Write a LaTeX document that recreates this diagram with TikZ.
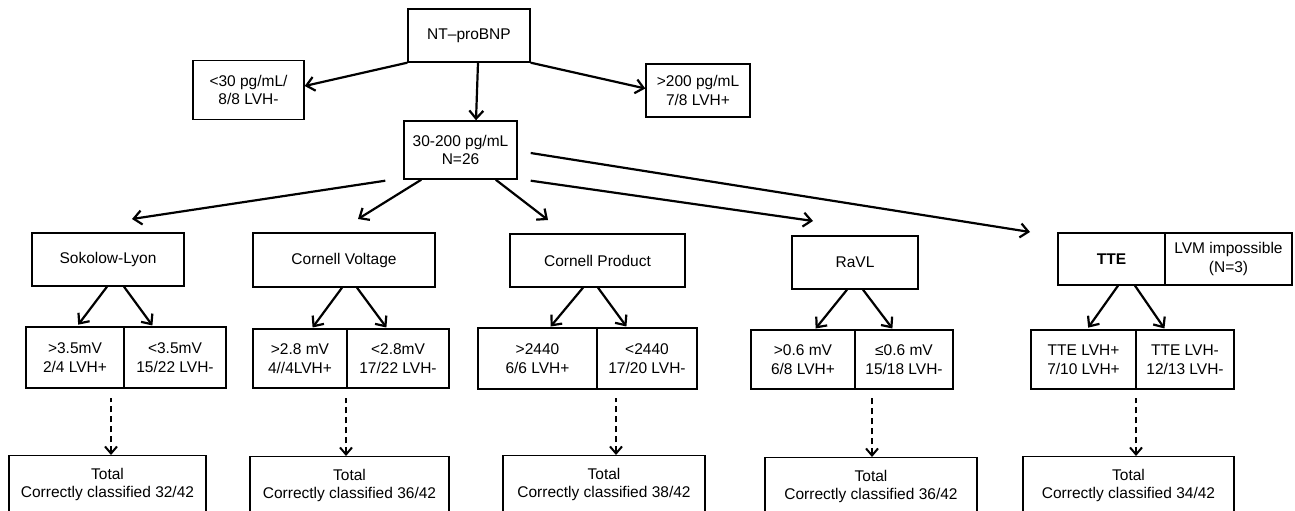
\documentclass[tikz,border=0pt]{standalone}
\usepackage{fontspec}
\setmainfont{Liberation Sans}
\usepackage{tikz}
\usetikzlibrary{arrows.meta}

\begin{document}
\begin{tikzpicture}
 [x=1pt, y=-1pt,
  box node/.style={draw, line width=1.4pt, inner sep=0pt, align=center, font=\fontsize{15.5}{18.5}\selectfont},
  total node/.style={box node, anchor=north, minimum height=58pt},
  arr/.style={-{Straight Barb[length=8pt,width=14pt]}, line width=2.2pt},
  dash arr/.style={{Straight Barb[length=7pt,width=12pt]}-, line width=2pt, dash pattern=on 6pt off 4pt}]

 \useasboundingbox (0,0) rectangle (1295,511);
 \clip (0,0) rectangle (1295,511);

 % first split
 \node[box node, minimum width=122pt, minimum height=53pt] (nt) at (469,35.5) {NT–proBNP};
 \node[box node, minimum width=111pt, minimum height=59pt] (low) at (248.5,90) {<30 pg/mL/\\8/8 LVH-};
 \node[box node, minimum width=104pt, minimum height=53pt] (high) at (698,90.5) {>200 pg/mL\\7/8 LVH+};
 \node[box node, minimum width=113pt, minimum height=58pt] (mid) at (460.5,150) {30-200 pg/mL\\N=26};

 % criteria
 \node[box node, minimum width=152pt, minimum height=53pt] (sok) at (108,259.5) {Sokolow-Lyon};
 \node[box node, minimum width=182pt, minimum height=54pt] (cv) at (344,260) {Cornell Voltage};
 \node[box node, minimum width=175pt, minimum height=53pt] (cp) at (597.5,260.5) {Cornell Product};
 \node[box node, minimum width=126pt, minimum height=53pt] (ravl) at (855,262.5) {RaVL};
 \node[box node, minimum width=107pt, minimum height=52pt] (tte) at (1111.5,259) {\bfseries TTE};
 \node[box node, minimum width=127pt, minimum height=52pt] (lvm) at (1228.5,259) {LVM impossible\\(N=3)};

 % results
 \node[box node, minimum width=98pt, minimum height=61pt] (sok1) at (75,357.5) {>3.5mV\\2/4 LVH+};
 \node[box node, minimum width=102pt, minimum height=61pt] (sok2) at (175,357.5) {<3.5mV\\15/22 LVH-};
 \node[box node, minimum width=94pt, minimum height=59pt] (cv1) at (300,358.5) {>2.8 mV\\4//4LVH+};
 \node[box node, minimum width=102pt, minimum height=59pt] (cv2) at (398,358.5) {<2.8mV\\17/22 LVH-};
 \node[box node, minimum width=119pt, minimum height=61pt] (cp1) at (537.5,358.5) {>2440\\6/6 LVH+};
 \node[box node, minimum width=100pt, minimum height=61pt] (cp2) at (647,358.5) {<2440\\17/20 LVH-};
 \node[box node, minimum width=104pt, minimum height=59pt] (ravl1) at (803,359.5) {>0.6 mV\\6/8 LVH+};
 \node[box node, minimum width=98pt, minimum height=59pt] (ravl2) at (904,359.5) {≤0.6 mV\\15/18 LVH-};
 \node[box node, minimum width=105pt, minimum height=59pt] (tte1) at (1083.5,359.5) {TTE LVH+\\7/10 LVH+};
 \node[box node, minimum width=98pt, minimum height=59pt] (tte2) at (1185,359.5) {TTE LVH-\\12/13 LVH-};

 % totals
 \node[total node, minimum width=197pt] (sokT) at (107.5,455) {Total\\Correctly classified 32/42};
 \node[total node, minimum width=199pt] (cvT) at (349.5,456) {Total\\Correctly classified 36/42};
 \node[total node, minimum width=202pt] (cpT) at (604,455) {Total\\Correctly classified 38/42};
 \node[total node, minimum width=212pt] (ravlT) at (871,457) {Total\\Correctly classified 36/42};
 \node[total node, minimum width=211pt] (tteT) at (1128.5,456) {Total\\Correctly classified 34/42};

 \coordinate (sok in) at (132,219);
 \coordinate (cv in) at (358,219);
 \coordinate (cp in) at (548,220);
 \coordinate (ravl in) at (813,221);
 \coordinate (tte in) at (1030,232);

 \path
  (nt.south west) edge [arr] ([yshift=4pt]low.east)
  (nt.south east) edge [arr] ([yshift=2pt]high.west)
  ([xshift=9pt]nt.south) edge [arr] ([xshift=15.5pt]mid.north)

  ([shift={(-18,1)}]mid.south west) edge [arr] (sok in)
  ([xshift=18pt]mid.south west) edge [arr] (cv in)
  ([xshift=-22pt]mid.south east) edge [arr] (cp in)
  ([shift={(13,1)}]mid.south east) edge [arr] (ravl in)
  ([shift={(13,3)}]mid.east) edge [arr] (tte in)

  ([xshift=-1pt]sok.south) edge [arr, shorten >=2pt] ([xshift=2pt]sok1.north)
  ([xshift=16pt]sok.south) edge [arr, shorten >=1pt] ([xshift=-22pt]sok2.north)
  ([xshift=-2pt]cv.south) edge [arr, shorten >=1pt] ([xshift=12pt]cv1.north)
  ([xshift=13pt]cv.south) edge [arr, shorten >=1pt] ([xshift=-11pt]cv2.north)
  ([xshift=-14.5pt]cp.south) edge [arr, shorten >=1pt] ([xshift=12.5pt]cp1.north)
  ([xshift=0.5pt]cp.south) edge [arr, shorten >=1pt] ([xshift=-20pt]cp2.north)
  ([xshift=-8pt]ravl.south) edge [arr, shorten >=1pt] ([xshift=12pt]ravl1.north)
  ([xshift=8pt]ravl.south) edge [arr, shorten >=1pt] ([xshift=-11pt]ravl2.north)
  ([xshift=6.5pt]tte.south) edge [arr, shorten >=2pt] ([xshift=3.5pt]tte1.north)
  ([xshift=23.5pt]tte.south) edge [arr, shorten >=1pt] ([xshift=-20pt]tte2.north);

 \draw[dash arr] ([xshift=3.5pt]sokT.north) -- ++(0,-57);
 \draw[dash arr] ([xshift=-3.5pt]cvT.north) -- ++(0,-58);
 \draw[dash arr] ([xshift=12pt]cpT.north) -- ++(0,-57);
 \draw[dash arr] ([xshift=1pt]ravlT.north) -- ++(0,-59);
 \draw[dash arr] ([xshift=7.5pt]tteT.north) -- ++(0,-58);

\end{tikzpicture}
\end{document}
